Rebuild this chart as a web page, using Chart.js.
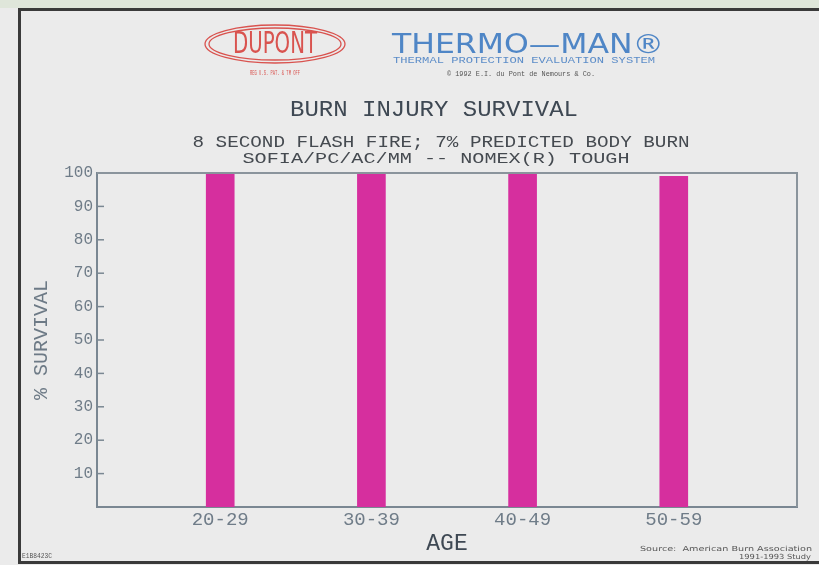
<!DOCTYPE html>
<html>
<head>
<meta charset="utf-8">
<script src="https://cdn.jsdelivr.net/npm/chart.js@4"></script>
<style>
  html, body { margin: 0; padding: 0; background: #ebebeb; }
  #wrap { width: 819px; height: 565px; }
</style>
</head>
<body>
<div id="wrap"><canvas id="burnChart" width="819" height="565"></canvas></div>
<script>
var ageGroups = ['20-29', '30-39', '40-49', '50-59'];
var survival = [100, 100, 100, 99];
var yTicks = [0, 10, 20, 30, 40, 50, 60, 70, 80, 90, 100];

var mono = '"Liberation Mono", "DejaVu Sans Mono", monospace';

// draw a string stretched to a given width, centred on x
function stretchText(ctx, text, cx, cy, size, width, color, family) {
    ctx.save();
    ctx.font = size + 'px ' + (family || mono);
    ctx.fillStyle = color;
    ctx.textAlign = 'center';
    ctx.textBaseline = 'middle';
    var w = ctx.measureText(text).width;
    ctx.translate(cx, cy);
    ctx.scale(width / w, 1);
    ctx.fillText(text, 0, 0);
    ctx.restore();
}

var decor = {
    id: 'decor',
    beforeDraw: function(chart) {
        var ctx = chart.ctx;
        ctx.save();
        ctx.fillStyle = '#ebebeb';
        ctx.fillRect(0, 0, chart.width, chart.height);
        ctx.fillStyle = '#dfe6da';
        ctx.fillRect(0, 0, chart.width, 8);
        // photo frame
        ctx.fillStyle = '#3a3a3a';
        ctx.fillRect(18, 8, chart.width - 18, 3);
        ctx.fillRect(18, 8, 3, 556);
        ctx.fillRect(18, 561, chart.width - 18, 3);

        // DuPont oval logo
        ctx.strokeStyle = '#d9534f';
        ctx.lineWidth = 1.3;
        ctx.beginPath();
        ctx.ellipse(275, 44, 70, 19, 0, 0, Math.PI * 2);
        ctx.stroke();
        ctx.beginPath();
        ctx.ellipse(275, 44, 66, 16, 0, 0, Math.PI * 2);
        ctx.stroke();
        stretchText(ctx, 'DUPONT', 275, 45, 30, 84, '#d9534f', '"DejaVu Sans Condensed", sans-serif');
        stretchText(ctx, 'REG U.S. PAT. & TM OFF', 275, 73, 7, 50, '#d9534f');

        stretchText(ctx, 'THERMO\u2014MAN\u00ae', 528, 46, 26, 272, '#4f86c6', '"DejaVu Sans", sans-serif');
        stretchText(ctx, 'THERMAL PROTECTION EVALUATION SYSTEM', 524, 61, 9, 262, '#5b8cc8');
        stretchText(ctx, '\u00a9 1992 E.I. du Pont de Nemours & Co.', 521, 74, 7, 148, '#555555');

        stretchText(ctx, 'BURN INJURY SURVIVAL', 434, 110, 22, 288, '#3e4853');
        stretchText(ctx, '8 SECOND FLASH FIRE; 7% PREDICTED BODY BURN', 441, 143, 16, 497, '#454a50');
        stretchText(ctx, 'SOFIA/PC/AC/MM -- NOMEX(R) TOUGH', 436, 159, 15, 387, '#454a50');

        stretchText(ctx, 'E1B8423C', 37, 556, 8, 30, '#555555');
        stretchText(ctx, 'Source:  American Burn Association', 726, 549, 7, 172, '#555555', '"DejaVu Sans", sans-serif');
        stretchText(ctx, '1991-1993 Study', 775, 557, 7, 72, '#555555', '"DejaVu Sans", sans-serif');
        ctx.restore();
    },
    afterDatasetsDraw: function(chart) {
        var ctx = chart.ctx;
        var a = chart.chartArea;
        var y = chart.scales.y;
        ctx.save();
        ctx.strokeStyle = '#8a949c';
        ctx.lineWidth = 2;
        ctx.beginPath();
        ctx.moveTo(a.left, a.top);
        ctx.lineTo(a.right, a.top);
        ctx.lineTo(a.right, a.bottom);
        ctx.stroke();
        // short inside tick marks
        ctx.strokeStyle = '#7a8792';
        ctx.lineWidth = 1.5;
        y.ticks.forEach(function(t) {
            if (t.value === 0 || t.value === 100) return;
            var py = y.getPixelForValue(t.value);
            ctx.beginPath();
            ctx.moveTo(a.left, py);
            ctx.lineTo(a.left + 7, py);
            ctx.stroke();
        });
        ctx.restore();
    }
};

var el = document.getElementById('burnChart').getContext('2d');
var burnChart = new Chart(el, {
    type: 'bar',
    data: {
        datasets: [{
            label: '% Survival',
            data: survival.map(function(v, i) { return { x: i + 1, y: v }; }),
            backgroundColor: '#d62f9e',
            borderWidth: 0,
            barThickness: 28
        }]
    },
    options: {
        responsive: false,
        animation: false,
        layout: { padding: { left: 20, top: 173, right: 22, bottom: 0 } },
        plugins: {
            legend: { display: false },
            tooltip: { enabled: false }
        },
        scales: {
            x: {
                type: 'linear',
                offset: false,
                min: 0.185,
                max: 4.815,
                afterBuildTicks: function(s) {
                    s.ticks = ageGroups.map(function(g, i) { return { value: i + 1 }; });
                },
                afterFit: function(s) { s.height = 58; },
                grid: { display: false, drawTicks: false, offset: false },
                border: { color: '#7a8792', width: 2 },
                ticks: {
                    padding: 2,
                    color: '#6f7c88',
                    font: { family: mono, size: 19 },
                    callback: function(v) { return ageGroups[v - 1]; }
                },
                title: {
                    display: true,
                    text: 'AGE',
                    color: '#3e4853',
                    font: { family: mono, size: 23 },
                    padding: { top: 7, bottom: 7 }
                }
            },
            y: {
                min: 0,
                max: 100,
                afterBuildTicks: function(s) {
                    s.ticks = yTicks.map(function(v) { return { value: v }; });
                },
                afterFit: function(s) { s.width = 77; },
                grid: { display: false, drawTicks: false },
                border: { color: '#7a8792', width: 2 },
                ticks: {
                    padding: 4,
                    color: '#6f7c88',
                    font: { family: mono, size: 16 },
                    callback: function(v) { return v === 0 ? '' : v; }
                },
                title: {
                    display: true,
                    text: '% SURVIVAL',
                    color: '#6d7a86',
                    font: { family: mono, size: 20 },
                    padding: { top: 10, bottom: 10 }
                }
            }
        }
    },
    plugins: [decor]
});
</script>
</body>
</html>
